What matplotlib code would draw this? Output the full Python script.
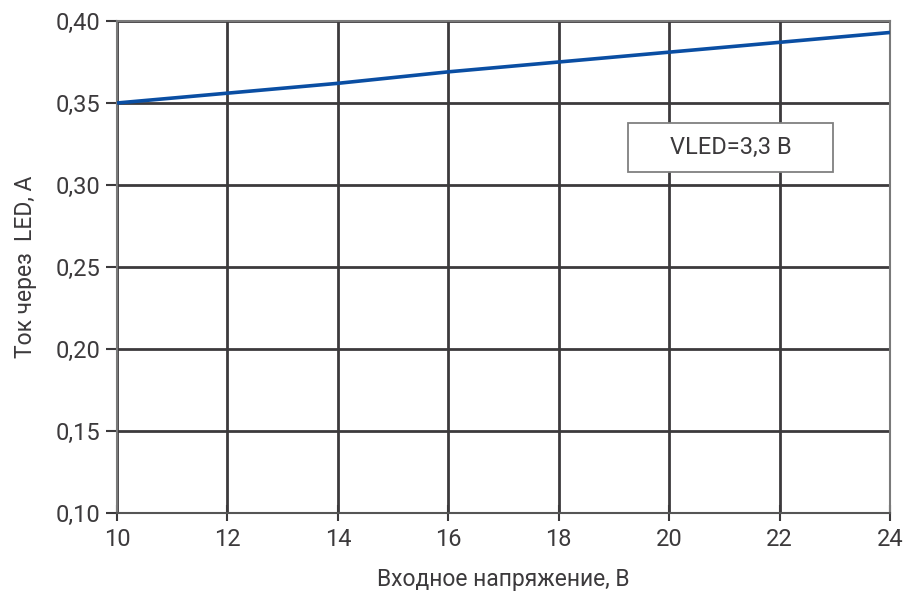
import matplotlib
matplotlib.use("Agg")
import matplotlib.pyplot as plt
from matplotlib import font_manager as fm
from matplotlib.patches import Rectangle

names = {f.name for f in fm.fontManager.ttflist}
fam = "Liberation Sans Narrow" if "Liberation Sans Narrow" in names else "Roboto"
plt.rcParams['font.family'] = [fam, 'DejaVu Sans']

x_vals = [10, 12, 14, 16, 18, 20, 22, 24]
current = [0.350, 0.356, 0.362, 0.369, 0.375, 0.381, 0.387, 0.393]
x_ticks = [10, 12, 14, 16, 18, 20, 22, 24]
y_ticks = [0.10, 0.15, 0.20, 0.25, 0.30, 0.35, 0.40]
y_labels = ["0,10", "0,15", "0,20", "0,25", "0,30", "0,35", "0,40"]
x_label = "Входное напряжение, В"
y_label = "Ток через  LED, А"
box_text = "VLED=3,3 В"

txt = "#3c3a3c"
fig = plt.figure(figsize=(9.19, 5.92), dpi=100)
ax = fig.add_axes([117/919, 1-513/592, 773/919, 492/592])
ax.plot(x_vals, current, color="#0a4ea3", lw=2.6, zorder=5, solid_capstyle='butt')
ax.set_xlim(10, 24)
ax.set_ylim(0.10, 0.40)
ax.set_xticks(x_ticks)
ax.set_xticklabels([str(v) for v in x_ticks])
ax.set_yticks(y_ticks)
ax.set_yticklabels(y_labels)
ax.grid(True, color=txt, lw=2)
ax.set_axisbelow(True)
for s in ax.spines.values():
    s.set_color("#7a7a7a")
    s.set_linewidth(1.5)
ax.spines['bottom'].set_color("#555555")
ax.tick_params(axis='both', colors=txt, labelcolor=txt, labelsize=17, width=1.5)
ax.tick_params(axis='x', direction='inout', length=12, pad=5)
ax.tick_params(axis='y', direction='out', length=8, pad=4)
ax.set_xlabel(x_label, fontsize=16.5, color=txt, labelpad=12)
ax.set_ylabel(y_label, fontsize=16.5, color=txt, labelpad=13)

ax.add_patch(Rectangle((19.26, 0.3079), 22.97-19.26, 0.3378-0.3079,
                       facecolor='white', edgecolor='#808080', lw=1.3, zorder=6))
ax.text((19.26+22.97)/2, (0.3079+0.3378)/2, box_text, ha='center', va='center',
        fontsize=17, color=txt, zorder=7)

fig.savefig("out.png", dpi=100)
